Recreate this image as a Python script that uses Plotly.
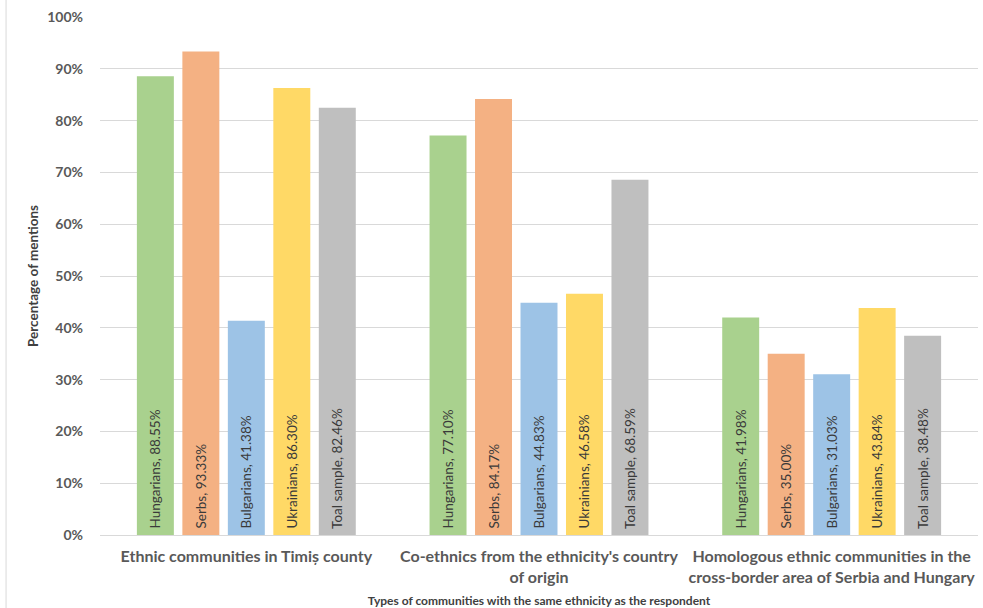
import plotly.graph_objects as go

# Community types shown on the x axis
categories = [
    "Ethnic communities in Timiș county",
    "Co-ethnics from the ethnicity's country<br>of origin",
    "Homologous ethnic communities in the<br>cross-border area of Serbia and Hungary",
]

# Percentage of mentions per respondent group
hungarians = [88.55, 77.10, 41.98]
serbs = [93.33, 84.17, 35.00]
bulgarians = [41.38, 44.83, 31.03]
ukrainians = [86.30, 46.58, 43.84]
total_sample = [82.46, 68.59, 38.48]

series = [
    ("Hungarians", hungarians, "#A9D18E"),
    ("Serbs", serbs, "#F4B183"),
    ("Bulgarians", bulgarians, "#9DC3E6"),
    ("Ukrainians", ukrainians, "#FFD966"),
    ("Toal sample", total_sample, "#BFBFBF"),
]

y_ticks = list(range(0, 101, 10))

FONT = "Lato, 'Open Sans', sans-serif"
GRAY = "#595959"

fig = go.Figure()
for name, values, color in series:
    fig.add_trace(go.Bar(
        name=name,
        x=categories,
        y=values,
        marker=dict(color=color, line=dict(width=0)),
        texttemplate="\u00a0" + name + ", %{y:.2f}%",
        textposition="inside",
        insidetextanchor="start",
        textangle=-90,
        textfont=dict(family=FONT, size=13.5, color="#3a3a3a"),
        cliponaxis=False,
    ))

# Thin frame line at the left edge of the chart area
fig.add_shape(
    type="line", xref="paper", yref="paper",
    x0=-0.107, x1=-0.107, y0=-0.141, y1=1.033,
    line=dict(color="#D9D9D9", width=1),
)

fig.update_layout(
    width=983, height=608,
    margin=dict(l=100, r=5, t=17, b=73, autoexpand=False),
    paper_bgcolor="white",
    plot_bgcolor="white",
    barmode="group",
    bargap=0.223,
    bargroupgap=0.187,
    showlegend=False,
    uniformtext=dict(minsize=13, mode="show"),
    font=dict(family=FONT, color=GRAY),
    xaxis=dict(
        tickfont=dict(family=FONT, size=16, color=GRAY, weight="bold"),
        ticklabelstandoff=10,
        showgrid=False,
        showline=False,
        ticks="",
        automargin=False,
        title=dict(
            text="<b>Types of communities with the same ethnicity as the respondent</b>",
            font=dict(family=FONT, size=12, color="#404040"),
            standoff=11,
        ),
    ),
    yaxis=dict(
        range=[0, 100],
        tickvals=y_ticks,
        ticktext=[f"{v}%" for v in y_ticks],
        tickfont=dict(family=FONT, size=14, color=GRAY, weight="bold"),
        ticklabelstandoff=16,
        showgrid=True,
        gridcolor="#D9D9D9",
        gridwidth=1,
        zeroline=True,
        zerolinecolor="#D9D9D9",
        zerolinewidth=1,
        showline=False,
        ticks="",
        automargin=False,
        title=dict(
            text="<b>Percentage of mentions</b>",
            font=dict(family=FONT, size=13.5, color="#404040"),
            standoff=5,
        ),
    ),
)

fig.write_html("out.html")
